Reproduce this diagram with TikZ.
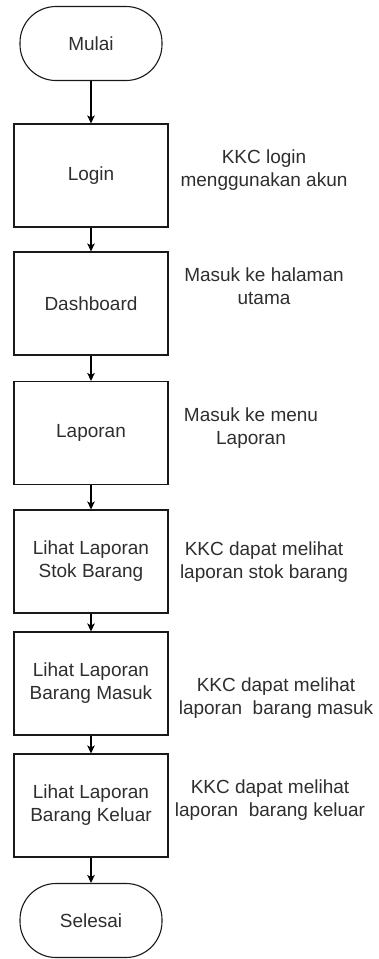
\documentclass[tikz,border=0pt]{standalone}
\usepackage{fontspec}
\setmainfont{Liberation Sans}
\usetikzlibrary{arrows.meta}

\tikzset{
  proses/.style={draw=black!90, line width=1.1pt, minimum width=154pt, minimum height=103pt, inner sep=0pt, align=center},
  terminal/.style={draw=black!90, line width=1.1pt, rounded corners=36pt, minimum width=142pt, minimum height=74pt, inner sep=0pt},
  ket/.style={align=center, inner sep=0pt},
  alur/.style={draw=black, line width=1.1pt, -{Stealth[length=8pt,width=7.5pt,inset=2pt]}}
}

\begin{document}
\begin{tikzpicture}[x=1pt,y=-1pt,font=\fontsize{19}{23}\selectfont,text=black!82]
  \useasboundingbox (0,0) rectangle (379,959);
  % alur utama
  \node[terminal] (mulai)   at (91,43.5)  {Mulai};
  \node[proses]   (login)   at (91,175.5) {Login};
  \node[proses]   (dash)    at (91,303.5) {Dashboard};
  \node[proses]   (lap)     at (91,433)   {Laporan};
  \node[proses]   (stok)    at (91,561.5) {Lihat Laporan\\Stok Barang};
  \node[proses]   (masuk)   at (91,683.5) {Lihat Laporan\\Barang Masuk};
  \node[proses]   (keluar)  at (91,805.5) {Lihat Laporan\\Barang Keluar};
  \node[terminal] (selesai) at (91,920.5) {Selesai};
  \foreach \a/\b in {mulai/login,login/dash,dash/lap,lap/stok,stok/masuk,masuk/keluar,keluar/selesai}
    \draw[alur] (\a) -- (\b);
  % keterangan
  \node[ket] (ketlogin)  at (264,170) {KKC login\\menggunakan akun};
  \node[ket] (ketdash)   at (264,286) {Masuk ke halaman\\utama};
  \node[ket] (ketlap)    at (251,428) {Masuk ke menu\\Laporan};
  \node[ket] (ketstok)   at (264,562) {KKC dapat melihat\\laporan stok barang};
  \node[ket] (ketmasuk)  at (276,698) {KKC dapat melihat\\laporan\ \ barang masuk};
  \node[ket] (ketkeluar) at (270,800) {KKC dapat melihat\\laporan\ \ barang keluar};
\end{tikzpicture}
\end{document}
